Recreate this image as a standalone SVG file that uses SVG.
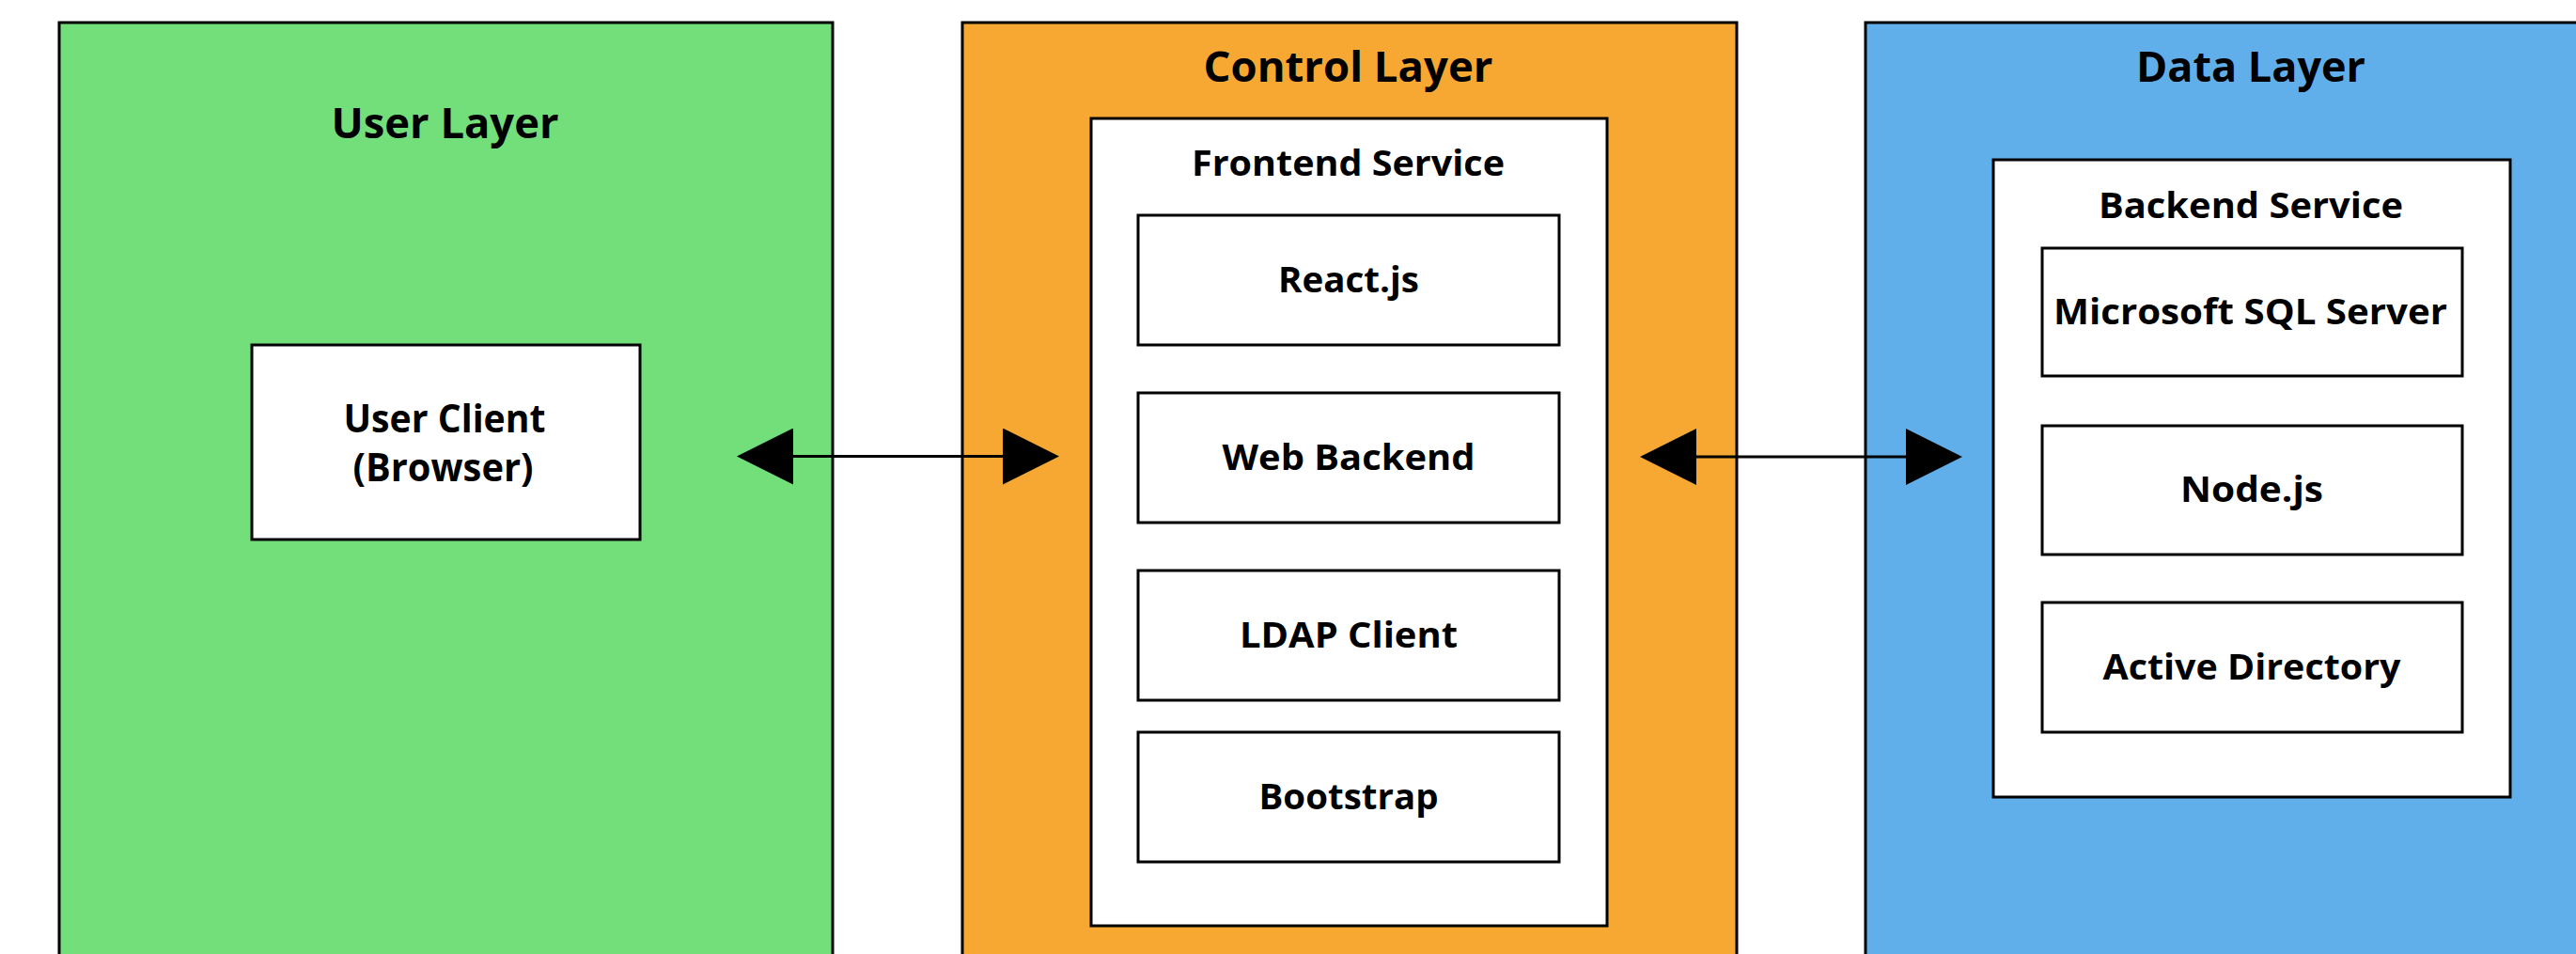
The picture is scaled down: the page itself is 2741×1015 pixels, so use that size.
<svg xmlns="http://www.w3.org/2000/svg" width="2741" height="1015" viewBox="0 0 2741 1015">
  <style>
    .layer { stroke: #000; stroke-width: 3; }
    .box { fill: #fff; stroke: #000; stroke-width: 3; }
    .t { font-family: "Open Sans", "Lato", "Liberation Sans", sans-serif; font-weight: 700; fill: #000; text-anchor: middle; }
    .title { font-size: 44px; }
    .big { font-size: 42px; }
    .lbl { font-size: 38px; }
    .conn { stroke: #000; stroke-width: 3; fill: none; }
  </style>
  <defs>
    <marker id="ah" markerUnits="userSpaceOnUse" markerWidth="60" markerHeight="60" viewBox="0 0 60 60" refX="0" refY="30" orient="auto-start-reverse">
      <path d="M0,0 L60,30 L0,60 Z" fill="#000"/>
    </marker>
  </defs>
  <rect width="2741" height="1015" fill="#fff"/>

  <g id="user-layer">
    <rect class="layer" x="63" y="24" width="823" height="1100" fill="#73DF7B"/>
    <text class="t title" x="473.5" y="147" textLength="242" lengthAdjust="spacingAndGlyphs">User Layer</text>
  </g>
  <g id="control-layer">
    <rect class="layer" x="1024" y="24" width="824" height="1100" fill="#F7A833"/>
    <text class="t title" x="1434.5" y="87" textLength="308" lengthAdjust="spacingAndGlyphs">Control Layer</text>
  </g>
  <g id="data-layer">
    <rect class="layer" x="1985" y="24" width="824" height="1100" fill="#60AFEB"/>
    <text class="t title" x="2395" y="87" textLength="244" lengthAdjust="spacingAndGlyphs">Data Layer</text>
  </g>

  <g id="user-client">
    <rect class="box" x="268" y="367" width="413" height="207"/>
    <text class="t big" x="473" y="460" textLength="215" lengthAdjust="spacingAndGlyphs">User Client</text>
    <text class="t big" x="471.5" y="512" textLength="192" lengthAdjust="spacingAndGlyphs">(Browser)</text>
  </g>

  <g id="frontend-service">
    <rect class="box" x="1161" y="126" width="549" height="859"/>
    <text class="t lbl" x="1434.5" y="187" textLength="333" lengthAdjust="spacingAndGlyphs">Frontend Service</text>
  </g>
  <g id="react">
    <rect class="box" x="1211" y="229" width="448" height="138"/>
    <text class="t lbl" x="1435" y="311" textLength="150" lengthAdjust="spacingAndGlyphs">React.js</text>
  </g>
  <g id="web-backend">
    <rect class="box" x="1211" y="418" width="448" height="138"/>
    <text class="t lbl" x="1435" y="500" textLength="269" lengthAdjust="spacingAndGlyphs">Web Backend</text>
  </g>
  <g id="ldap-client">
    <rect class="box" x="1211" y="607" width="448" height="138"/>
    <text class="t lbl" x="1435" y="689" textLength="232" lengthAdjust="spacingAndGlyphs">LDAP Client</text>
  </g>
  <g id="bootstrap">
    <rect class="box" x="1211" y="779" width="448" height="138"/>
    <text class="t lbl" x="1435" y="861" textLength="191" lengthAdjust="spacingAndGlyphs">Bootstrap</text>
  </g>

  <g id="backend-service">
    <rect class="box" x="2121" y="170" width="550" height="678"/>
    <text class="t lbl" x="2395" y="232" textLength="324" lengthAdjust="spacingAndGlyphs">Backend Service</text>
  </g>
  <g id="mssql">
    <rect class="box" x="2173" y="264" width="447" height="136"/>
    <text class="t lbl" x="2394.5" y="345" textLength="419" lengthAdjust="spacingAndGlyphs">Microsoft SQL Server</text>
  </g>
  <g id="nodejs">
    <rect class="box" x="2173" y="453" width="447" height="137"/>
    <text class="t lbl" x="2396" y="534" textLength="152" lengthAdjust="spacingAndGlyphs">Node.js</text>
  </g>
  <g id="active-directory">
    <rect class="box" x="2173" y="641" width="447" height="138"/>
    <text class="t lbl" x="2396" y="723" textLength="317" lengthAdjust="spacingAndGlyphs">Active Directory</text>
  </g>

  <g id="connectors">
    <line class="conn" x1="844" y1="485.5" x2="1067" y2="485.5" marker-start="url(#ah)" marker-end="url(#ah)"/>
    <line class="conn" x1="1805" y1="486" x2="2028" y2="486" marker-start="url(#ah)" marker-end="url(#ah)"/>
  </g>
</svg>
